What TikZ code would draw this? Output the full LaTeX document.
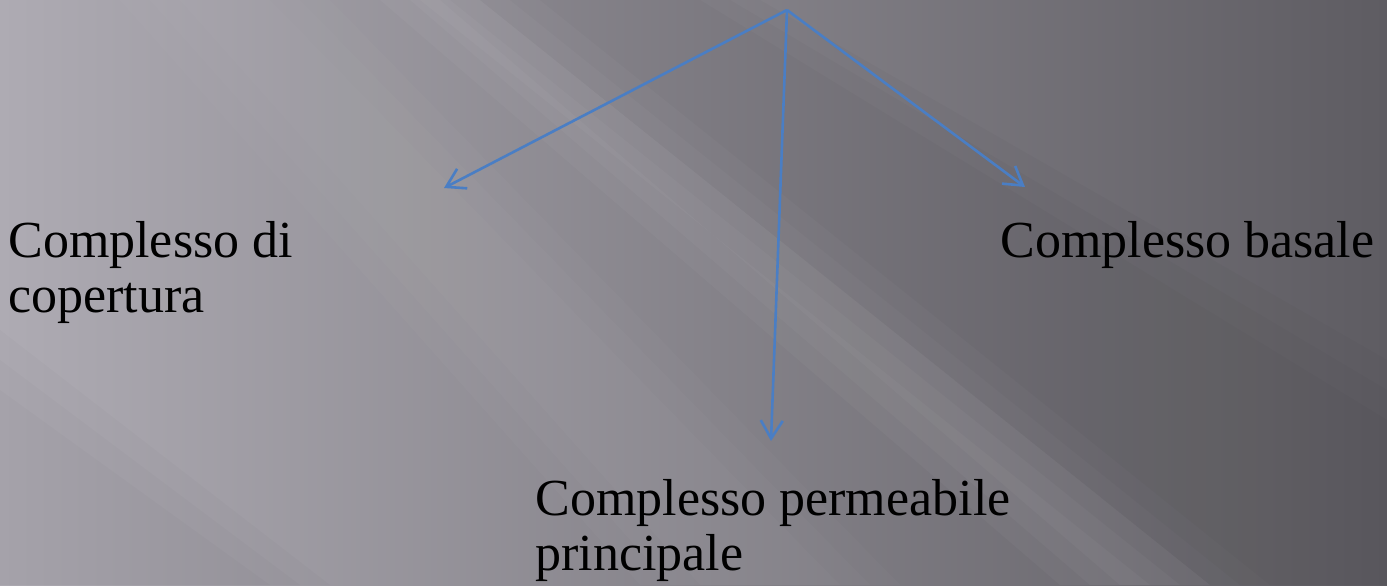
\documentclass[tikz,border=0pt]{standalone}
\usepackage{fontspec}
\setmainfont{Liberation Serif}
\usetikzlibrary{arrows.meta,positioning}
\definecolor{bgleft}{HTML}{AEABB3}
\definecolor{bgright}{HTML}{5E5C62}
\definecolor{arrowblue}{HTML}{4A7EC4}
\tikzset{lbl/.style={font=\fontsize{26}{27.5}\selectfont,align=left,inner sep=0pt,anchor=north west},arr/.style={-{Straight Barb[length=9pt,width=11pt]},line width=1.3pt,draw=arrowblue}}

\begin{document}
\begin{tikzpicture}[x=0.5pt,y=-0.5pt]
\useasboundingbox (0,0) rectangle (1387,585);
% background
\shade[left color=bgleft,right color=bgright] (0,0) rectangle (1387,585);
\foreach \w in {0,30,60}{
  \fill[white,opacity=0.03] (380+\w,0) -- (480-\w,0) -- (1210-\w,585) -- (1060+\w,585) -- cycle;
  \fill[white,opacity=0.02] (120+\w,0) -- (330-\w,0) -- (900-\w,585) -- (640+\w,585) -- cycle;
  \fill[black,opacity=0.02] (480+\w,0) -- (700+\w,0) -- (1387,420-\w) -- (1387,585) -- (1210+\w,585) -- cycle;
  \fill[black,opacity=0.015] (0,330+\w) -- (330-\w,585) -- (0,585) -- cycle;
}
% labels
\node[lbl] (cover) at (8,221) {Complesso di\\copertura};
\node[lbl] (basal) at (1000,221) {Complesso basale};
\node[lbl] (main) at (535,479) {Complesso permeabile\\principale};
% arrows
\coordinate (root) at (787,10);
\coordinate (tipcover) at (444,188);
\coordinate (tipmain) at (771,441);
\coordinate (tipbasal) at (1025,187);
\draw[arr] (root) -- (tipcover);
\draw[arr] (root) -- (tipmain);
\draw[arr] (root) -- (tipbasal);
\end{tikzpicture}
\end{document}
